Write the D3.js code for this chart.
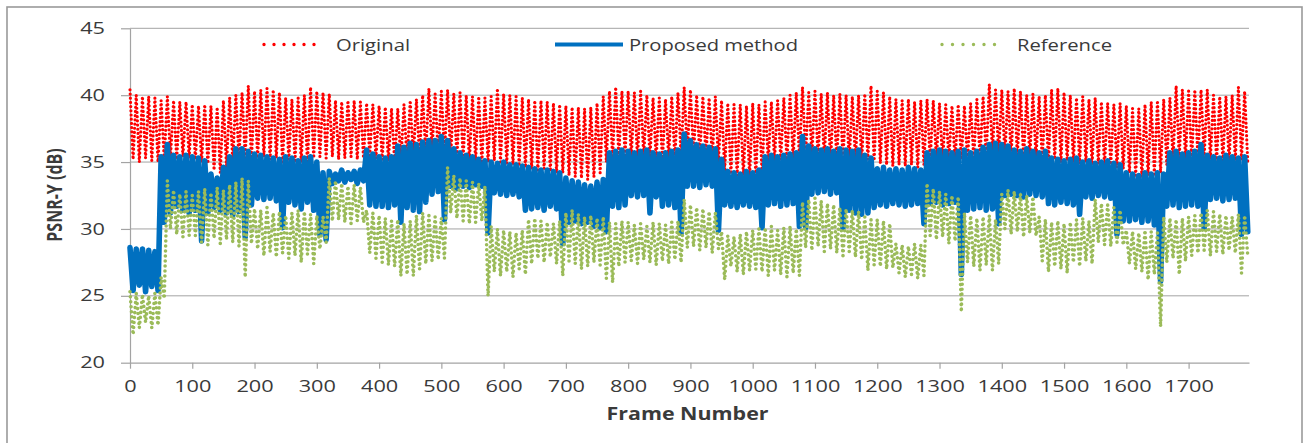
<!DOCTYPE html>
<html>
<head>
<meta charset="utf-8">
<script src="https://cdn.jsdelivr.net/npm/d3@7/dist/d3.min.js"></script>
<style>
  body { margin: 0; background: #fff; }
  svg text { font-family: "Open Sans", sans-serif; fill: #3a3a3a; }
</style>
</head>
<body>
<svg id="chart" width="1304" height="443"></svg>
<script>
// PSNR-Y per frame, every 10 frames:
// *Hi = upper value at frame 10k, *Lo = lower value at frame 10k+5
const step = 10;

const origHi = [
  40.4, 40.0, 39.9, 39.9, 39.8, 39.6, 39.9, 39.6, 39.5, 39.5,
  39.3, 39.2, 39.3, 39.2, 39.1, 39.6, 39.8, 40.0, 40.2, 40.7,
  40.3, 40.4, 40.5, 40.4, 40.2, 39.8, 39.7, 39.8, 40.0, 40.6,
  40.3, 40.2, 40.1, 39.6, 39.5, 39.6, 39.6, 39.5, 39.4, 39.3,
  39.2, 39.1, 39.0, 39.0, 39.3, 39.6, 39.7, 40.0, 40.5, 40.1,
  40.3, 40.4, 40.1, 40.2, 40.0, 39.9, 39.9, 39.8, 39.9, 40.5,
  40.1, 40.0, 39.9, 39.8, 39.7, 39.6, 39.6, 39.5, 39.4, 39.3,
  39.2, 39.1, 39.1, 39.0, 39.1, 39.4, 39.9, 40.3, 40.6, 40.3,
  40.3, 40.2, 40.3, 40.0, 39.8, 39.8, 39.7, 39.9, 40.2, 40.6,
  40.4, 40.0, 39.9, 39.8, 39.9, 39.6, 39.4, 39.3, 39.3, 39.2,
  39.4, 39.3, 39.5, 39.5, 39.6, 39.8, 40.0, 40.2, 40.6, 40.2,
  40.3, 40.1, 40.2, 40.0, 40.1, 40.0, 39.9, 40.0, 40.1, 40.7,
  40.3, 40.2, 39.9, 39.7, 39.6, 39.7, 39.5, 39.6, 39.7, 39.6,
  39.4, 39.3, 39.2, 39.3, 39.2, 39.4, 39.7, 39.9, 40.8, 40.4,
  40.4, 40.3, 40.5, 40.3, 40.0, 40.1, 39.9, 40.0, 40.4, 40.5,
  40.2, 40.0, 39.8, 39.9, 39.7, 39.8, 39.5, 39.4, 39.3, 39.4,
  39.2, 39.0, 39.0, 39.3, 39.5, 39.6, 39.7, 39.8, 40.7, 40.4,
  40.3, 40.4, 40.4, 40.4, 40.0, 39.9, 39.9, 40.0, 40.6, 40.3
];
const origLo = [
  35.2, 35.0, 35.3, 35.1, 35.0, 35.2, 35.3, 35.2, 35.4, 35.3,
  35.2, 35.0, 34.9, 34.4, 34.2, 34.6, 35.0, 35.2, 35.3, 35.1,
  35.3, 35.4, 35.2, 35.3, 35.0, 35.2, 35.1, 35.0, 34.9, 35.3,
  35.4, 35.3, 35.4, 35.2, 35.3, 35.4, 35.2, 35.3, 35.5, 35.3,
  35.2, 35.1, 35.0, 35.1, 35.0, 35.3, 35.4, 35.6, 35.8, 35.5,
  35.6, 35.4, 35.3, 35.2, 35.0, 35.1, 34.9, 35.0, 35.1, 35.0,
  34.9, 34.8, 34.7, 34.6, 34.5, 34.4, 34.5, 34.3, 34.2, 34.2,
  34.0, 33.9, 33.8, 33.7, 33.9, 34.2, 35.0, 35.3, 35.4, 35.5,
  35.3, 35.2, 35.4, 35.3, 35.2, 35.1, 35.3, 35.2, 35.4, 35.6,
  35.5, 35.4, 35.3, 35.2, 35.0, 34.3, 34.1, 34.0, 34.0, 33.9,
  34.0, 34.2, 35.0, 35.1, 35.2, 35.0, 35.2, 35.3, 35.5, 35.4,
  35.3, 35.2, 35.0, 35.1, 35.2, 35.0, 35.1, 35.0, 35.2, 35.1,
  34.9, 34.8, 34.7, 34.8, 34.7, 34.8, 34.6, 34.8, 35.1, 35.2,
  35.0, 35.1, 35.0, 35.2, 35.1, 35.2, 35.3, 35.4, 35.6, 35.5,
  35.4, 35.3, 35.4, 35.2, 35.3, 35.2, 35.1, 35.0, 35.2, 35.0,
  35.1, 35.0, 34.9, 35.0, 34.8, 34.9, 34.7, 34.8, 34.6, 34.5,
  34.2, 34.0, 33.9, 34.0, 34.1, 34.2, 34.8, 35.1, 35.3, 35.2,
  35.1, 35.2, 35.3, 35.2, 35.0, 35.1, 35.0, 35.1, 35.2, 35.0
];

const propHi = [
  28.6, 28.5, 28.5, 28.4, 28.3, 35.4, 36.3, 35.5, 35.4, 35.5,
  35.4, 35.3, 35.1, 34.1, 33.8, 34.6, 35.4, 36.0, 36.0, 35.8,
  35.6, 35.5, 35.4, 35.3, 35.2, 35.4, 35.3, 35.1, 35.3, 35.4,
  35.0, 34.2, 34.3, 34.1, 34.4, 34.2, 34.3, 34.4, 35.9, 35.6,
  35.4, 35.3, 35.4, 36.2, 36.1, 36.4, 36.3, 36.5, 36.6, 36.6,
  36.9, 36.6, 36.0, 35.7, 35.5, 35.4, 35.2, 35.1, 35.0, 34.9,
  35.0, 34.8, 34.8, 34.7, 34.6, 34.5, 34.4, 34.4, 34.3, 34.2,
  33.8, 33.6, 33.5, 33.3, 33.2, 33.5, 33.7, 35.7, 35.8, 35.9,
  35.8, 35.7, 35.8, 35.9, 35.7, 35.6, 35.7, 35.8, 35.9, 37.1,
  36.6, 36.3, 36.2, 36.1, 36.0, 35.2, 34.3, 34.2, 34.1, 34.3,
  34.2, 34.4, 35.4, 35.5, 35.4, 35.5, 35.6, 35.7, 36.9, 36.2,
  36.0, 35.9, 36.0, 35.8, 36.0, 35.9, 35.8, 35.9, 35.5, 35.3,
  34.5, 34.6, 34.4, 34.5, 34.4, 34.6, 34.5, 34.4, 35.7, 35.8,
  35.9, 35.8, 35.7, 35.8, 35.9, 35.7, 35.8, 36.1, 36.3, 36.4,
  36.3, 36.2, 35.9, 35.8, 36.0, 35.8, 35.7, 35.8, 35.3, 35.2,
  35.1, 35.2, 35.3, 35.0, 35.1, 34.9, 35.0, 35.1, 34.9, 34.8,
  34.2, 34.1, 34.0, 34.2, 34.1, 34.2, 34.1, 35.7, 35.8, 35.6,
  35.7, 35.8, 36.3, 35.5, 35.4, 35.3, 35.5, 35.4, 35.3, 35.4
];
const propLo = [
  25.4, 25.8, 25.3, 25.7, 25.4, 30.5, 31.2, 31.7, 31.4, 31.2,
  31.4, 29.1, 31.2, 31.6, 31.4, 31.2, 31.0, 31.3, 29.4, 31.8,
  32.3, 32.2, 32.3, 32.1, 30.1, 32.0, 31.8, 31.5, 32.0, 31.4,
  29.6, 29.2, 33.4, 33.6, 33.5, 33.7, 33.4, 33.6, 31.8, 31.7,
  31.7, 31.6, 31.8, 30.5, 31.6, 31.4, 31.3, 32.0, 32.6, 32.8,
  30.7, 33.2, 33.0, 33.2, 33.1, 33.3, 33.2, 29.7, 32.7, 32.6,
  32.5, 32.6, 32.4, 31.4, 31.5, 31.6, 31.4, 31.7, 31.5, 28.9,
  30.5, 30.6, 30.4, 30.5, 30.2, 30.1, 29.8, 31.7, 31.6, 31.8,
  32.5, 32.4, 32.5, 31.2, 32.4, 31.7, 31.8, 31.6, 29.7, 33.2,
  33.2, 33.1, 33.3, 33.2, 29.9, 31.8, 31.7, 31.6, 31.8, 31.7,
  31.6, 30.1, 31.8, 31.9, 31.7, 31.8, 31.9, 30.2, 30.1, 32.6,
  32.7, 32.8, 32.6, 32.7, 30.1, 31.4, 31.2, 31.1, 31.2, 31.6,
  31.8, 31.7, 31.9, 31.8, 31.7, 31.8, 31.9, 30.4, 31.9, 32.0,
  31.8, 31.9, 32.0, 26.6, 31.4, 31.5, 31.6, 31.4, 31.5, 30.4,
  32.5, 32.6, 32.5, 32.4, 32.6, 32.5, 32.4, 31.9, 31.8, 32.0,
  31.9, 31.8, 31.1, 32.4, 32.3, 32.5, 32.4, 32.3, 29.6, 30.6,
  30.6, 30.7, 30.5, 30.6, 30.3, 26.1, 31.7, 31.8, 31.6, 31.7,
  31.8, 31.7, 30.1, 32.2, 32.3, 32.1, 32.2, 32.3, 29.6, 29.8
];

const refHi = [
  25.3, 25.2, 25.1, 25.0, 25.2, 26.4, 33.6, 32.9, 32.6, 32.8,
  32.5, 32.8, 33.0, 32.7, 33.1, 32.9, 33.3, 33.5, 33.8, 33.6,
  31.5, 31.4, 31.6, 31.2, 31.3, 31.0, 31.2, 31.4, 31.3, 31.1,
  31.0, 30.9, 33.8, 33.6, 33.4, 33.2, 33.3, 33.1, 31.4, 31.2,
  31.0, 30.8, 30.6, 30.7, 30.4, 30.6, 31.0, 31.2, 31.0, 30.9,
  30.8, 34.6, 34.0, 33.8, 33.6, 33.5, 33.4, 33.2, 30.2, 30.0,
  29.9, 29.8, 29.7, 29.9, 30.7, 30.8, 30.6, 30.5, 30.4, 30.6,
  31.2, 31.4, 31.1, 30.9, 31.0, 30.8, 30.9, 30.5, 30.4, 30.6,
  30.5, 30.3, 30.4, 30.2, 30.5, 30.4, 30.3, 30.5, 30.6, 32.2,
  31.8, 31.6, 31.5, 31.3, 31.2, 29.8, 29.5, 29.4, 29.6, 29.8,
  29.9, 30.0, 30.1, 30.2, 29.9, 30.1, 30.2, 30.0, 32.0, 32.2,
  32.3, 32.1, 31.9, 31.8, 31.6, 31.5, 31.4, 31.3, 30.9, 30.7,
  30.7, 30.6, 30.4, 28.9, 28.8, 28.7, 28.9, 28.8, 33.4, 33.0,
  32.8, 32.6, 32.5, 32.4, 31.2, 31.0, 30.8, 30.9, 31.0, 30.7,
  32.6, 32.9, 32.8, 32.6, 32.5, 32.4, 30.9, 30.7, 30.5, 30.6,
  30.4, 30.5, 30.7, 30.8, 30.6, 32.2, 31.9, 31.8, 31.6, 31.4,
  29.9, 29.8, 29.7, 29.9, 29.8, 29.7, 30.9, 30.8, 30.7, 30.8,
  30.9, 31.0, 31.2, 31.4, 31.3, 31.1, 31.0, 30.9, 31.1, 31.0
];
const refLo = [
  22.1, 22.6, 23.0, 22.6, 22.8, 24.8, 30.0, 29.6, 29.4, 29.5,
  29.5, 29.0, 28.8, 29.3, 28.9, 29.2, 29.0, 28.7, 26.4, 28.9,
  28.5, 28.0, 28.3, 27.9, 28.2, 27.8, 28.0, 27.5, 28.1, 27.4,
  28.5, 29.0, 30.6, 30.7, 30.5, 30.4, 30.6, 30.5, 28.2, 27.8,
  27.5, 27.3, 27.2, 26.5, 26.6, 26.5, 27.0, 27.4, 27.6, 27.7,
  27.8, 31.2, 30.8, 30.6, 30.4, 30.5, 30.6, 25.0, 26.8, 26.5,
  26.8, 26.4, 27.0, 26.6, 27.4, 27.8, 27.5, 27.9, 27.4, 26.5,
  27.6, 27.4, 27.0, 27.2, 27.5, 27.3, 26.3, 26.0, 27.2, 27.5,
  27.6, 27.4, 27.7, 27.5, 27.3, 27.6, 27.4, 27.7, 27.5, 28.6,
  28.7, 28.4, 28.6, 28.2, 28.5, 26.2, 27.2, 26.8, 26.6, 26.9,
  27.0, 26.8, 26.5, 26.9, 26.6, 26.4, 26.7, 26.5, 28.6, 28.4,
  28.7, 28.3, 28.5, 28.2, 28.0, 28.3, 27.9, 27.7, 26.9, 27.3,
  27.2, 27.0, 27.1, 26.7, 26.4, 26.6, 26.3, 26.5, 29.5, 29.2,
  29.4, 28.9, 29.1, 23.8, 27.5, 27.2, 26.9, 27.3, 26.9, 27.4,
  30.0, 29.6, 29.8, 29.4, 29.7, 29.5, 27.6, 26.8, 27.2, 27.0,
  26.7, 27.5, 27.2, 27.6, 27.4, 29.0, 28.8, 28.7, 29.0, 28.8,
  27.4, 27.0, 26.8, 26.2, 26.6, 22.7, 27.5, 27.8, 26.6, 27.6,
  28.0, 28.2, 28.4, 28.0, 28.3, 28.1, 28.4, 28.2, 26.7, 28.0
];

const xTickLabels = [0, 100, 200, 300, 400, 500, 600, 700, 800, 900,
  1000, 1100, 1200, 1300, 1400, 1500, 1600, 1700];
const yTickLabels = [20, 25, 30, 35, 40, 45];
const seriesNames = ['Original', 'Proposed method', 'Reference'];

const plot = { left: 130, right: 1249, top: 28.3, bottom: 362.7 };
const gridColor = '#a3a3a3';

const svg = d3.select('#chart');

// outer frame
svg.append('rect')
  .attr('x', 7).attr('y', 7)
  .attr('width', 1295).attr('height', 445)
  .attr('fill', 'none')
  .attr('stroke', '#9a9a9a')
  .attr('stroke-width', 1.6);

const x = d3.scaleLinear().domain([0, 1797]).range([plot.left, plot.right]);
const y = d3.scaleLinear().domain([20, 45]).range([plot.bottom, plot.top]);

// horizontal gridlines
svg.append('g')
  .selectAll('line')
  .data(yTickLabels.slice(1))
  .enter()
  .append('line')
  .attr('x1', plot.left).attr('x2', plot.right)
  .attr('y1', (d) => y(d)).attr('y2', (d) => y(d))
  .attr('stroke', gridColor)
  .attr('stroke-width', 1);

// axes
const xAxis = svg.append('g')
  .attr('transform', `translate(0,${plot.bottom})`)
  .call(d3.axisBottom(x).tickValues(xTickLabels).tickFormat(d3.format('d'))
    .tickSize(6).tickSizeOuter(0).tickPadding(12));
const yAxis = svg.append('g')
  .attr('transform', `translate(${plot.left},0)`)
  .call(d3.axisLeft(y).tickValues(yTickLabels).tickFormat(d3.format('d'))
    .tickSize(9).tickSizeOuter(0).tickPadding(16));

[xAxis, yAxis].forEach((g) => {
  g.select('.domain').attr('stroke', gridColor).attr('stroke-width', 1.2);
  g.selectAll('.tick line').attr('stroke', gridColor).attr('stroke-width', 1.2);
  g.selectAll('.tick text')
    .attr('font-family', '"Open Sans", sans-serif')
    .attr('font-size', 16)
    .attr('fill', '#3a3a3a')
    .attr('textLength', (d) => String(d).length * 12.4)
    .attr('lengthAdjust', 'spacingAndGlyphs');
});

// series
const zigzag = (hi, lo) => {
  const pts = [];
  hi.forEach((v, i) => {
    pts.push([i * step, v]);
    pts.push([i * step + step / 2, lo[i]]);
  });
  return pts;
};
const line = d3.line().x((d) => x(d[0])).y((d) => y(d[1]));

const series = [
  { name: seriesNames[0], pts: zigzag(origHi, origLo), color: '#ff0000', width: 3.2, dash: '0 4.2' },
  { name: seriesNames[1], pts: zigzag(propHi, propLo), color: '#0070c0', width: 5.6, dash: null },
  { name: seriesNames[2], pts: zigzag(refHi, refLo), color: '#9bbb59', width: 3.6, dash: '0 5' }
];

svg.append('g')
  .selectAll('path')
  .data(series)
  .enter()
  .append('path')
  .attr('d', (d) => line(d.pts))
  .attr('fill', 'none')
  .attr('stroke', (d) => d.color)
  .attr('stroke-width', (d) => d.width)
  .attr('stroke-linecap', 'round')
  .attr('stroke-linejoin', 'round')
  .attr('stroke-dasharray', (d) => d.dash);

// legend
const legendPos = [
  { x0: 264, x1: 324, tx: 336, tl: 74, dash: '0 10', w: 3.4 },
  { x0: 555, x1: 623, tx: 629, tl: 169, dash: null, w: 4 },
  { x0: 942, x1: 1005, tx: 1017, tl: 95, dash: '0 10.5', w: 3.4 }
];
const legend = svg.append('g').selectAll('g')
  .data(series)
  .enter()
  .append('g');
legend.append('line')
  .attr('x1', (d, i) => legendPos[i].x0)
  .attr('x2', (d, i) => legendPos[i].x1)
  .attr('y1', 44.5).attr('y2', 44.5)
  .attr('stroke', (d) => d.color)
  .attr('stroke-width', (d, i) => legendPos[i].w)
  .attr('stroke-linecap', (d) => d.dash ? 'round' : 'butt')
  .attr('stroke-dasharray', (d, i) => legendPos[i].dash);
legend.append('text')
  .attr('x', (d, i) => legendPos[i].tx)
  .attr('y', 50.6)
  .attr('font-size', 16)
  .attr('textLength', (d, i) => legendPos[i].tl)
  .attr('lengthAdjust', 'spacingAndGlyphs')
  .text((d) => d.name);

// axis titles
svg.append('text')
  .attr('x', 606.5).attr('y', 420)
  .attr('font-size', 17)
  .attr('font-weight', 'bold')
  .attr('fill', '#1a1a1a')
  .attr('textLength', 162)
  .attr('lengthAdjust', 'spacingAndGlyphs')
  .text('Frame Number');

svg.append('text')
  .attr('transform', 'translate(62,195) scale(1.3,1) rotate(-90)')
  .attr('text-anchor', 'middle')
  .attr('font-size', 16)
  .attr('font-weight', 'bold')
  .attr('fill', '#1a1a1a')
  .text('PSNR-Y (dB)');
</script>
</body>
</html>
